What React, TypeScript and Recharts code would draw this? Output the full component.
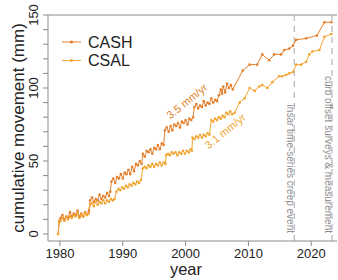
import React from 'react';
import { LineChart, Line, XAxis, YAxis, ReferenceLine, ReferenceDot, Label } from 'recharts';

const cashYears = [
  1979.7, 1979.9, 1980.1, 1980.4, 1980.7, 1981.0, 1981.3, 1981.6, 1981.9, 1982.2, 1982.5, 1982.8,
  1983.1, 1983.4, 1983.7, 1984.0, 1984.3, 1984.6, 1984.8, 1985.1, 1985.4, 1985.7, 1986.0, 1986.3,
  1986.6, 1986.9, 1987.2, 1987.5, 1987.8, 1988.0, 1988.2, 1988.5, 1988.8, 1989.1, 1989.4, 1989.7,
  1990.0, 1990.3, 1990.6, 1990.9, 1991.2, 1991.5, 1991.8, 1992.1, 1992.4, 1992.7, 1993.0, 1993.2,
  1993.5, 1993.8, 1994.1, 1994.4, 1994.7, 1995.0, 1995.3, 1995.6, 1995.9, 1996.2, 1996.5, 1996.7,
  1997.0, 1997.3, 1997.6, 1997.9, 1998.2, 1998.5, 1998.8, 1999.1, 1999.4, 1999.7, 2000.0, 2000.3,
  2000.6, 2000.9, 2001.2, 2001.4, 2001.7, 2002.0, 2002.3, 2002.6, 2002.9, 2003.2, 2003.5, 2003.8,
  2004.1, 2004.4, 2004.7, 2005.0, 2005.3, 2005.6, 2005.8, 2006.0, 2006.3, 2006.6, 2006.9, 2007.2,
  2007.5, 2009.1, 2010.2, 2011.4, 2012.2, 2013.3, 2014.1, 2015.2, 2015.7, 2016.5, 2017.1, 2017.6,
  2019.2, 2020.9, 2022.1, 2023.2,
];
const cashMm = [
  0, 9, 11, 13, 10, 12, 11, 15, 12, 14, 13, 16,
  12, 14, 12, 15, 13, 16, 23, 25, 22, 24, 23, 27,
  24, 26, 25, 28, 26, 29, 36, 38, 35, 39, 38, 41,
  38, 42, 41, 44, 41, 46, 43, 48, 47, 50, 48, 55,
  53, 57, 56, 58, 55, 59, 58, 61, 58, 62, 61, 71,
  73, 70, 74, 71, 75, 74, 76, 73, 77, 76, 78, 75,
  79, 78, 80, 87, 89, 86, 88, 87, 91, 88, 90, 89,
  93, 90, 92, 91, 95, 99, 96, 101, 97, 103, 100, 102,
  99, 112, 116, 116, 123, 119, 123, 123, 126, 127, 129, 133,
  134, 136, 145, 145,
];

const csalYears = [
  1979.7, 1979.9, 1980.1, 1980.4, 1980.7, 1981.0, 1981.3, 1981.6, 1981.9, 1982.2, 1982.5, 1982.8,
  1983.1, 1983.4, 1983.7, 1984.0, 1984.3, 1984.6, 1984.8, 1985.1, 1985.4, 1985.7, 1986.0, 1986.3,
  1986.6, 1986.9, 1987.2, 1987.5, 1987.8, 1988.1, 1988.4, 1988.7, 1989.0, 1989.3, 1989.6, 1989.9,
  1990.2, 1990.5, 1990.8, 1991.1, 1991.4, 1991.7, 1992.0, 1992.3, 1992.6, 1992.9, 1993.2, 1993.5,
  1993.8, 1994.1, 1994.4, 1994.7, 1995.0, 1995.3, 1995.6, 1995.9, 1996.2, 1996.5, 1996.8, 1996.9,
  1997.2, 1997.5, 1997.8, 1998.1, 1998.4, 1998.7, 1999.0, 1999.3, 1999.6, 1999.9, 2000.2, 2000.5,
  2000.8, 2001.0, 2001.1, 2001.4, 2001.7, 2002.0, 2002.3, 2002.6, 2002.9, 2003.2, 2003.5, 2003.8,
  2004.1, 2004.4, 2004.7, 2005.0, 2005.3, 2005.6, 2005.9, 2006.2, 2006.5, 2006.8, 2007.1, 2007.4,
  2007.8, 2008.6, 2009.4, 2010.2, 2011.0, 2011.7, 2012.2, 2013.0, 2013.8, 2014.9, 2015.4, 2016.0,
  2016.5, 2017.1, 2017.6, 2018.4, 2019.2, 2019.7, 2020.2, 2021.3, 2022.1, 2023.2,
];
const csalMm = [
  0, 8, 9, 11, 9, 12, 10, 12, 11, 13, 12, 14,
  11, 13, 12, 14, 13, 14, 20, 21, 19, 22, 20, 22,
  21, 23, 21, 23, 22, 24, 23, 24, 29, 31, 30, 32,
  31, 33, 32, 34, 33, 35, 34, 36, 35, 37, 45, 46,
  45, 47, 46, 48, 46, 48, 47, 49, 47, 49, 48, 54,
  55, 54, 56, 55, 56, 54, 56, 55, 57, 55, 57, 56,
  58, 57, 66, 65, 67, 66, 68, 66, 68, 67, 69, 68,
  78, 77, 79, 78, 80, 79, 81, 80, 83, 82, 84, 82,
  83, 90, 93, 100, 98, 101, 102, 100, 104, 108, 108, 109,
  110, 111, 116, 116, 118, 123, 125, 126, 135, 137,
];

const seriesNames = ['CASH', 'CSAL'];
const seriesColors = ['#E47F2C', '#F2A531'];
const xTicks = [1980, 1990, 2000, 2010, 2020];
const yTicks = [0, 10, 20, 30, 40, 50, 60, 70, 80, 90, 100, 110, 120, 130, 140, 150];
const yLabelTicks = [0, 50, 100, 150];
const eventYears = [2017.3, 2023.3];
const eventLabels = ['insar time-series creep event', 'curb offset surveys & measurement'];
const rateYears = [2000.2, 2006.3];
const rateMm = [91, 70.5];
const rateTexts = ['3.5 mm/yr', '3.1 mm/yr'];

const cashData = cashYears.map((year, i) => ({ year, mm: cashMm[i] }));
const csalData = csalYears.map((year, i) => ({ year, mm: csalMm[i] }));
const seriesData = [cashData, csalData];

const FONT = '"Liberation Sans", Arial, Helvetica, sans-serif';
const AXIS = '#8a8a8a';

const YTick = (props: any) => {
  const { x, y, payload } = props;
  if (!yLabelTicks.includes(payload.value)) return <g />;
  return (
    <text
      transform={`translate(${x - 8}, ${y}) rotate(-90)`}
      textAnchor="middle"
      dy="0.35em"
      fontSize={13}
      fontFamily={FONT}
      fill="#222"
    >
      {payload.value}
    </text>
  );
};

export default function App() {
  return (
    <div style={{ position: 'absolute', left: 0, top: 0, width: 338, height: 280, background: '#fff' }}>
      <LineChart width={338} height={280} margin={{ top: 15, right: 1, bottom: 0, left: 0 }}>
        <XAxis
          dataKey="year"
          type="number"
          domain={[1978.1, 2024.1]}
          ticks={xTicks}
          allowDataOverflow
          height={39}
          tickSize={5}
          tickMargin={3}
          stroke={AXIS}
          tick={{ fontSize: 13, fontFamily: FONT, fill: '#222' }}
        >
          <Label
            content={() => (
              <text x={186} y={275} textAnchor="middle" fontSize={16.5} fontFamily={FONT} fill="#222">
                year
              </text>
            )}
          />
        </XAxis>
        <YAxis
          type="number"
          domain={[-4.8, 150]}
          ticks={yTicks}
          allowDataOverflow
          width={48}
          tickSize={5}
          tickMargin={2}
          stroke={AXIS}
          tick={<YTick />}
          interval={0}
        >
          <Label
            content={() => (
              <text
                transform="translate(24, 128) rotate(-90)"
                textAnchor="middle"
                fontSize={17}
                fontFamily={FONT}
                fill="#222"
              >
                cumulative movement (mm)
              </text>
            )}
          />
        </YAxis>
        <ReferenceLine y={150} stroke={AXIS} strokeWidth={1} />
        {eventYears.map((yr, i) => (
          <ReferenceLine
            key={`ev${i}`}
            x={yr}
            stroke="#b5b5b5"
            strokeWidth={1.2}
            strokeDasharray="6 5"
            label={(p: any) => (
              <text
                transform={`translate(${p.viewBox.x - 7}, 233) rotate(90)`}
                textAnchor="end"
                fontSize={10}
                fontFamily={FONT}
                fill="#8c8c8c"
              >
                {eventLabels[i]}
              </text>
            )}
          />
        ))}
        {seriesData.map((d, i) => (
          <Line
            key={seriesNames[i]}
            data={d}
            dataKey="mm"
            name={seriesNames[i]}
            stroke={seriesColors[i]}
            strokeWidth={1}
            dot={{ r: 1.3, fill: seriesColors[i], stroke: seriesColors[i], strokeWidth: 0 }}
            isAnimationActive={false}
          />
        ))}
        {rateYears.map((yr, i) => (
          <ReferenceDot
            key={`rate${i}`}
            x={yr}
            y={rateMm[i]}
            r={0}
            shape={(p: any) => (
              <text
                transform={`translate(${p.cx}, ${p.cy}) rotate(-39)`}
                textAnchor="middle"
                dy="0.35em"
                fontSize={11}
                fontFamily={FONT}
                fill={seriesColors[i]}
              >
                {rateTexts[i]}
              </text>
            )}
          />
        ))}
      </LineChart>
      <svg width={338} height={280} style={{ position: 'absolute', left: 0, top: 0, pointerEvents: 'none' }}>
        {seriesNames.map((n, i) => (
          <g key={n}>
            <line x1={62} x2={81} y1={42 + i * 18.5} y2={42 + i * 18.5} stroke={seriesColors[i]} strokeWidth={1} />
            <circle cx={71.5} cy={42 + i * 18.5} r={1.6} fill={seriesColors[i]} />
            <text x={88} y={47.5 + i * 18.5} fontSize={16} fontFamily={FONT} fill="#222">
              {n}
            </text>
          </g>
        ))}
      </svg>
    </div>
  );
}
